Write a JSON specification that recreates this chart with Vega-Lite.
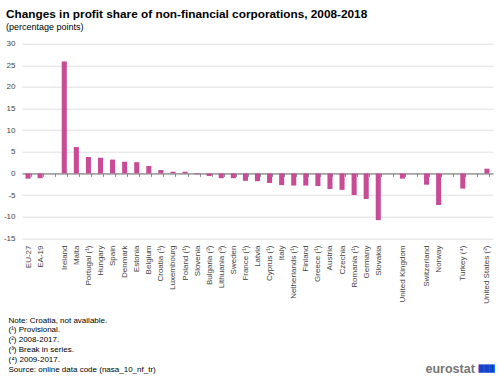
{
  "$schema": "https://vega.github.io/schema/vega-lite/v6.json",
  "width": 471,
  "height": 194.6,
  "autosize": {"type": "none"},
  "padding": {"left": 22, "top": 43.7, "right": 7, "bottom": 139.7},
  "background": "white",
  "config": {"view": {"stroke": null}, "font": "Liberation Sans"},
  "title": {
    "text": "Changes in profit share of non-financial corporations, 2008-2018",
    "subtitle": "(percentage points)",
    "anchor": "start",
    "frame": "group",
    "dx": -16,
    "offset": 8,
    "fontSize": 11.8,
    "fontWeight": "bold",
    "color": "#000000",
    "subtitleFontSize": 9,
    "subtitleColor": "#000000",
    "subtitlePadding": 2,
    "font": "Liberation Sans",
    "subtitleFont": "Liberation Sans"
  },
  "data": {
    "values": [
      {"country": "EU-27", "value": -1.2},
      {"country": "EA-19", "value": -1.1},
      {"country": "Ireland", "value": 25.9},
      {"country": "Malta", "value": 6.1},
      {"country": "Portugal (¹)", "value": 3.8},
      {"country": "Hungary", "value": 3.6},
      {"country": "Spain", "value": 3.2},
      {"country": "Denmark", "value": 2.7},
      {"country": "Estonia", "value": 2.6},
      {"country": "Belgium", "value": 1.7},
      {"country": "Croatia (¹)", "value": 0.8},
      {"country": "Luxembourg", "value": 0.4},
      {"country": "Poland (¹)", "value": 0.4},
      {"country": "Slovenia", "value": -0.2},
      {"country": "Bulgaria (²)", "value": -0.6},
      {"country": "Lithuania (³)", "value": -1.1},
      {"country": "Sweden", "value": -1.1},
      {"country": "France (¹)", "value": -1.7},
      {"country": "Latvia", "value": -1.8},
      {"country": "Cyprus (¹)", "value": -2.2},
      {"country": "Italy", "value": -2.7},
      {"country": "Netherlands (¹)", "value": -2.8},
      {"country": "Finland", "value": -2.8},
      {"country": "Greece (¹)", "value": -2.9},
      {"country": "Austria", "value": -3.6},
      {"country": "Czechia", "value": -3.8},
      {"country": "Romania (¹)", "value": -5.0},
      {"country": "Germany", "value": -5.9},
      {"country": "Slovakia", "value": -10.8},
      {"country": "United Kingdom", "value": -1.2},
      {"country": "Switzerland", "value": -2.6},
      {"country": "Norway", "value": -7.3},
      {"country": "Turkey (⁴)", "value": -3.5},
      {"country": "United States (²)", "value": 1.1}
    ]
  },
  "resolve": {"scale": {"y": "independent"}, "axis": {"y": "independent"}},
  "layer": [
    {
      "mark": {"type": "bar", "color": "#c84b96"},
      "encoding": {
        "x": {
          "field": "country",
          "type": "nominal",
          "scale": {
            "domain": ["EU-27", "EA-19", "_1", "Ireland", "Malta", "Portugal (¹)", "Hungary", "Spain", "Denmark", "Estonia", "Belgium", "Croatia (¹)", "Luxembourg", "Poland (¹)", "Slovenia", "Bulgaria (²)", "Lithuania (³)", "Sweden", "France (¹)", "Latvia", "Cyprus (¹)", "Italy", "Netherlands (¹)", "Finland", "Greece (¹)", "Austria", "Czechia", "Romania (¹)", "Germany", "Slovakia", "_2", "United Kingdom", "_3", "Switzerland", "Norway", "_4", "Turkey (⁴)", "_5", "United States (²)"],
            "paddingInner": 0.58,
            "paddingOuter": 0.29
          },
          "axis": {
            "orient": "bottom",
            "offset": -64.9,
            "tickBand": "extent",
            "tickSize": 3,
            "tickColor": "#8a8a8a",
            "domainColor": "#707070",
            "domainWidth": 1,
            "labelAngle": -90,
            "labelPadding": 68.6,
            "labelFontSize": 8,
            "labelColor": "#444444",
            "labelOverlap": false,
            "labelLimit": 200,
            "labelExpr": "indexof(datum.label, '_') == 0 ? '' : datum.label",
            "title": ["Note: Croatia, not available.", "(¹) Provisional.", "(²) 2008-2017.", "(³) Break in series.", "(⁴) 2009-2017.", "Source: online data code (nasa_10_nf_tr)"],
            "titleX": -14,
            "titleY": 148.6,
            "titleAlign": "left",
            "titleAnchor": "start",
            "titleBaseline": "alphabetic",
            "titleFontSize": 8,
            "titleFontWeight": "normal",
            "titleLineHeight": 9.9,
            "titleColor": "#000000"
          }
        },
        "y": {
          "field": "value",
          "type": "quantitative",
          "scale": {"domain": [-15, 30], "nice": false},
          "axis": {
            "values": [-15, -10, -5, 0, 5, 10, 15, 20, 25, 30],
            "grid": true,
            "gridColor": "#e0e0e0",
            "domain": false,
            "ticks": false,
            "labelPadding": 7,
            "labelFontSize": 8,
            "labelColor": "#444444",
            "labelExpr": "datum.value",
            "title": null
          }
        }
      }
    },
    {
      "mark": {"type": "rule", "opacity": 0},
      "encoding": {
        "y": {
          "datum": 0,
          "type": "quantitative",
          "scale": {"domain": [-15, 30], "nice": false},
          "axis": {
            "orient": "right",
            "values": [-15],
            "labelExpr": "'███'",
            "labelFont": "DejaVu Sans",
            "labelColor": "#0e47cb",
            "labelFontSize": 7,
            "labelPadding": -15,
            "labelAlign": "left",
            "labelOffset": 130,
            "ticks": false,
            "domain": false,
            "grid": false,
            "title": "eurostat",
            "titleAngle": 0,
            "titleX": -68,
            "titleY": 329,
            "titleAlign": "left",
            "titleBaseline": "alphabetic",
            "titleFontSize": 12.5,
            "titleFontWeight": "bold",
            "titleColor": "#777777"
          }
        }
      }
    }
  ]
}
